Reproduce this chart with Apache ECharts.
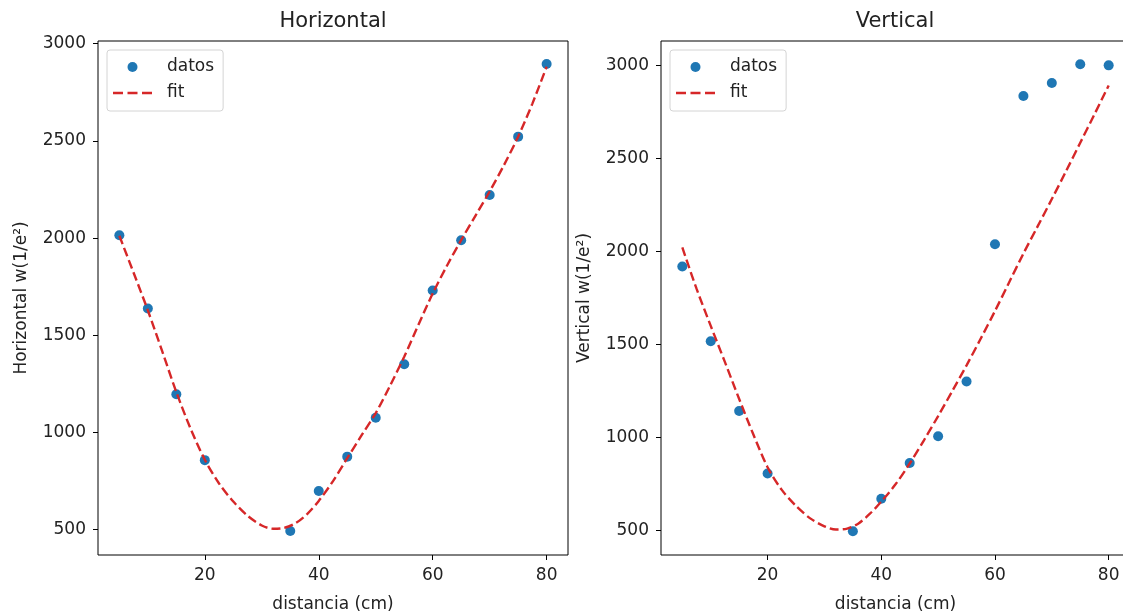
<!DOCTYPE html>
<html>
<head>
<meta charset="utf-8">
<title>Horizontal / Vertical</title>
<script src="https://cdn.jsdelivr.net/npm/echarts@6.0.0/dist/echarts.min.js"></script>
<style>
html, body { margin: 0; padding: 0; background: #fff; }
#chart { width: 1123px; height: 616px; }
</style>
</head>
<body>
<div id="chart"></div>
<script>
//datos medidos
var distancia = [5, 10, 15, 20, 35, 40, 45, 50, 55, 60, 65, 70, 75, 80];
var horizontalDatos = [2015, 1638, 1197, 858, 493, 699, 876, 1076, 1351, 1731, 1989, 2222, 2522, 2896];
var verticalDatos = [1919, 1517, 1142, 806, 496, 670, 863, 1007, 1301, 2039, 2836, 2906, 3007, 3001];

//curvas de ajuste
var fitX = [5, 7.5, 10, 12.5, 15, 17.5, 20, 22.5, 25, 27.5, 30, 32, 34, 36, 38, 40, 42.5, 45, 47.5, 50, 52.5, 55, 57.5, 60, 62.5, 65, 67.5, 70, 72.5, 75, 77.5, 80];
var horizontalFit = [2012, 1822, 1628, 1420, 1208, 1020, 860, 738, 645, 572, 522, 505, 510, 535, 582, 648, 750, 868, 985, 1100, 1240, 1390, 1555, 1715, 1858, 1990, 2115, 2240, 2375, 2522, 2692, 2882];
var verticalFit = [2022, 1800, 1600, 1405, 1207, 1016, 840, 718, 632, 565, 522, 505, 510, 538, 590, 655, 748, 860, 985, 1115, 1250, 1388, 1532, 1680, 1835, 1989, 2135, 2282, 2432, 2585, 2738, 2893];

//ejes
var xTicks = [20, 40, 60, 80];
var yTicks = [500, 1000, 1500, 2000, 2500, 3000];

var FONT = "DejaVu Sans";
var TXT = "#222";
var ROJO = '#d62728';
//icono "- - -" de la leyenda del ajuste
var ICONO_FIT = 'path://M0,0H10V2.6H0Z M14.5,0H24.5V2.6H14.5Z M29,0H39V2.6H29Z';

function pares(xs, ys) {
	var out = [];
	for (var i = 0; i < xs.length; i++) {
		out.push([xs[i], ys[i]]);
	}
	return out;
}

function ejeX(gridIndex) {
	return {
		type: 'value', gridIndex: gridIndex,
		min: 1.25, max: 83.75,
		name: 'distancia (cm)', nameLocation: 'middle', nameGap: 41,
		nameTextStyle: { fontFamily: FONT, fontSize: 17, color: TXT },
		axisLine: { show: false },
		axisTick: { show: true, length: 5, customValues: xTicks, lineStyle: { color: '#000', width: 1 } },
		axisLabel: { customValues: xTicks, margin: 12, fontFamily: FONT, fontSize: 17, color: TXT,
			formatter: function(v) { return String(v); } },
		splitLine: { show: false }
	};
}

function ejeY(gridIndex, nombre, min, max) {
	return {
		type: 'value', gridIndex: gridIndex,
		min: min, max: max,
		name: nombre, nameLocation: 'middle', nameGap: 68, nameRotate: 90,
		nameTextStyle: { fontFamily: FONT, fontSize: 17, color: TXT },
		axisLine: { show: false },
		axisTick: { show: true, length: 5, customValues: yTicks, lineStyle: { color: '#000', width: 1 } },
		axisLabel: { customValues: yTicks, margin: 12, fontFamily: FONT, fontSize: 17, color: TXT,
			formatter: function(v) { return String(v); } },
		splitLine: { show: false }
	};
}

function leyenda(left) {
	return {
		orient: 'vertical', left: left, top: 50,
		data: [{ name: 'datos', icon: 'circle' }, { name: 'fit', icon: ICONO_FIT }],
		itemWidth: 39, itemHeight: 10, itemGap: 6,
		padding: [7, 9, 8, 6],
		borderColor: '#d4d4d4', borderWidth: 1, borderRadius: 3,
		backgroundColor: 'rgba(255,255,255,0.8)',
		selectedMode: false,
		textStyle: { fontFamily: FONT, fontSize: 17, color: TXT, lineHeight: 20, padding: [0, 0, 0, 10] }
	};
}

function titulo(texto, centro) {
	return {
		text: texto, left: centro, top: 11, textAlign: 'center', padding: 0,
		textStyle: { fontFamily: FONT, fontSize: 21, fontWeight: 'normal', color: TXT }
	};
}

function serieDatos(idx, ys) {
	return {
		name: 'datos', type: 'scatter', xAxisIndex: idx, yAxisIndex: idx,
		data: pares(distancia, ys), symbolSize: 10,
		itemStyle: { color: '#1f77b4', opacity: 1 }, z: 2
	};
}

function serieFit(idx, ys) {
	return {
		name: 'fit', type: 'line', xAxisIndex: idx, yAxisIndex: idx,
		data: pares(fitX, ys), smooth: 0.3, symbol: 'none', showSymbol: false,
		lineStyle: { color: ROJO, width: 2.4, type: [9, 4] },
		itemStyle: { color: ROJO }, z: 3
	};
}

var chart = echarts.init(document.getElementById('chart'), null, { renderer: 'canvas' });
var option = {
	animation: false,
	backgroundColor: '#fff',
	title: [titulo('Horizontal', 333), titulo('Vertical', 895)],
	legend: [leyenda(107), leyenda(670)],
	grid: [
		{ left: 98, right: 555, top: 41, bottom: 61, show: true, borderColor: '#000', borderWidth: 1, outerBoundsMode: 'none' },
		{ left: 661, right: -7, top: 41, bottom: 61, show: true, borderColor: '#000', borderWidth: 1, outerBoundsMode: 'none' }
	],
	xAxis: [ejeX(0), ejeX(1)],
	yAxis: [
		ejeY(0, 'Horizontal w(1/e²)', 370, 3014),
		ejeY(1, 'Vertical w(1/e²)', 368, 3132)
	],
	series: [
		serieDatos(0, horizontalDatos),
		serieFit(0, horizontalFit),
		serieDatos(1, verticalDatos),
		serieFit(1, verticalFit)
	]
};
chart.setOption(option);
</script>
</body>
</html>
